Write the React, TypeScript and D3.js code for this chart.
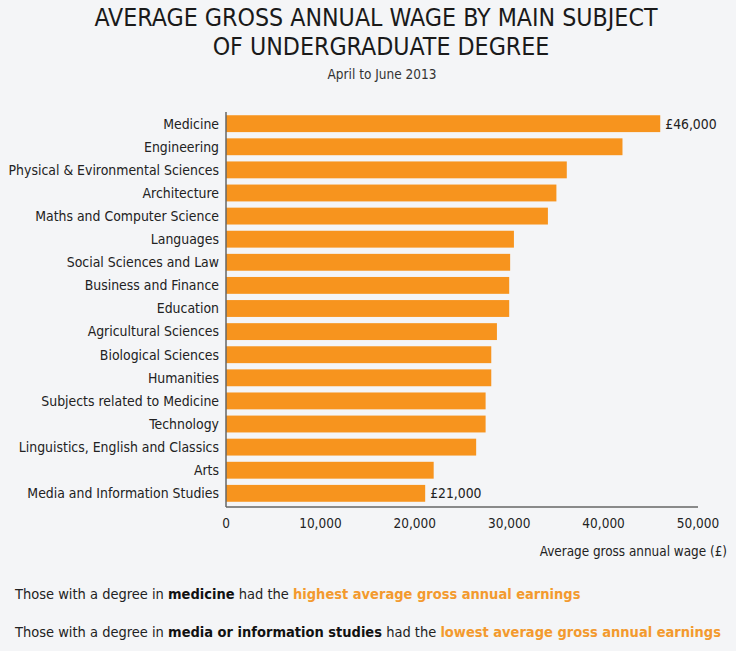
import React from 'react'
import * as d3 from 'd3'

// subjects top to bottom, with the average wage (GBP)
const subjects = [
  'Medicine',
  'Engineering',
  'Physical & Evironmental Sciences',
  'Architecture',
  'Maths and Computer Science',
  'Languages',
  'Social Sciences and Law',
  'Business and Finance',
  'Education',
  'Agricultural Sciences',
  'Biological Sciences',
  'Humanities',
  'Subjects related to Medicine',
  'Technology',
  'Linguistics, English and Classics',
  'Arts',
  'Media and Information Studies',
]
const wages = [
  46000, 42000, 36100, 35000, 34100, 30500, 30100, 30000, 30000, 28700, 28100,
  28100, 27500, 27500, 26500, 22000, 21100,
]
const xTicks = [0, 10000, 20000, 30000, 40000, 50000]
// only the top and bottom bars get a value label
const labelled = ['Medicine', 'Media and Information Studies']
const labelText = ['£46,000', '£21,000']

const W = 736
const H = 651
const font = "'DejaVu Sans Condensed', 'DejaVu Sans', sans-serif"
const orange = '#f7941e'

const App = () => {
  const x = d3.scaleLinear().domain([0, 50000]).range([226, 698])
  const y = d3.scaleBand().domain(subjects).range([109, 508]).padding(0.27)
  const fmt = d3.format(',')
  const data = subjects.map((s, i) => ({ subject: s, wage: wages[i] }))

  return (
    <svg
      width={W}
      height={H}
      style={{ position: 'absolute', left: 0, top: 0 }}
      fontFamily={font}
    >
      <rect width={W} height={H} fill="#f4f5f7" />

      {/* titles */}
      <g textAnchor="middle" fill="#1a1a1a">
        <text x={376} y={26} fontSize={24.7}>
          AVERAGE GROSS ANNUAL WAGE BY MAIN SUBJECT
        </text>
        <text x={381} y={55} fontSize={24.7}>
          OF UNDERGRADUATE DEGREE
        </text>
        <text x={382} y={79} fontSize={13.5} fill="#333">
          April to June 2013
        </text>
      </g>

      {/* bars */}
      {data.map((d) => (
        <rect
          key={d.subject}
          x={x(0)}
          y={y(d.subject)}
          width={x(d.wage) - x(0)}
          height={y.bandwidth()}
          fill={orange}
        />
      ))}

      {/* category labels */}
      <g textAnchor="end" fontSize={13.9} fill="#222">
        {subjects.map((s) => (
          <text key={s} x={219} y={y(s)! + y.bandwidth() / 2} dy="0.35em">
            {s}
          </text>
        ))}
      </g>

      {/* value labels on first and last bar */}
      <g fontSize={13.8} fill="#222">
        {labelled.map((s, i) => (
          <text
            key={s}
            x={x(wages[subjects.indexOf(s)]) + 5}
            y={y(s)! + y.bandwidth() / 2}
            dy="0.35em"
          >
            {labelText[i]}
          </text>
        ))}
      </g>

      {/* axes */}
      <line x1={x(0)} x2={x(0)} y1={112} y2={507} stroke="#666" strokeWidth={1.5} />
      <line x1={x(0)} x2={x(50000)} y1={507} y2={507} stroke="#666" strokeWidth={1.5} />
      <g textAnchor="middle" fontSize={13.5} fill="#222">
        {xTicks.map((t) => (
          <text key={t} x={x(t)} y={528}>
            {fmt(t)}
          </text>
        ))}
      </g>
      <text x={727} y={556} textAnchor="end" fontSize={13.4} fill="#222">
        Average gross annual wage (£)
      </text>

      {/* notes */}
      <g fontSize={14.5} fill="#222">
        <text x={15} y={599}>
          Those with a degree in <tspan fontWeight="bold" fill="#111">medicine</tspan> had the{' '}
          <tspan fontWeight="bold" fill="#f39a2e">highest average gross annual earnings</tspan>
        </text>
        <text x={15} y={637}>
          Those with a degree in{' '}
          <tspan fontWeight="bold" fill="#111">media or information studies</tspan> had the{' '}
          <tspan fontWeight="bold" fill="#f39a2e">lowest average gross annual earnings</tspan>
        </text>
      </g>
    </svg>
  )
}

export default App
